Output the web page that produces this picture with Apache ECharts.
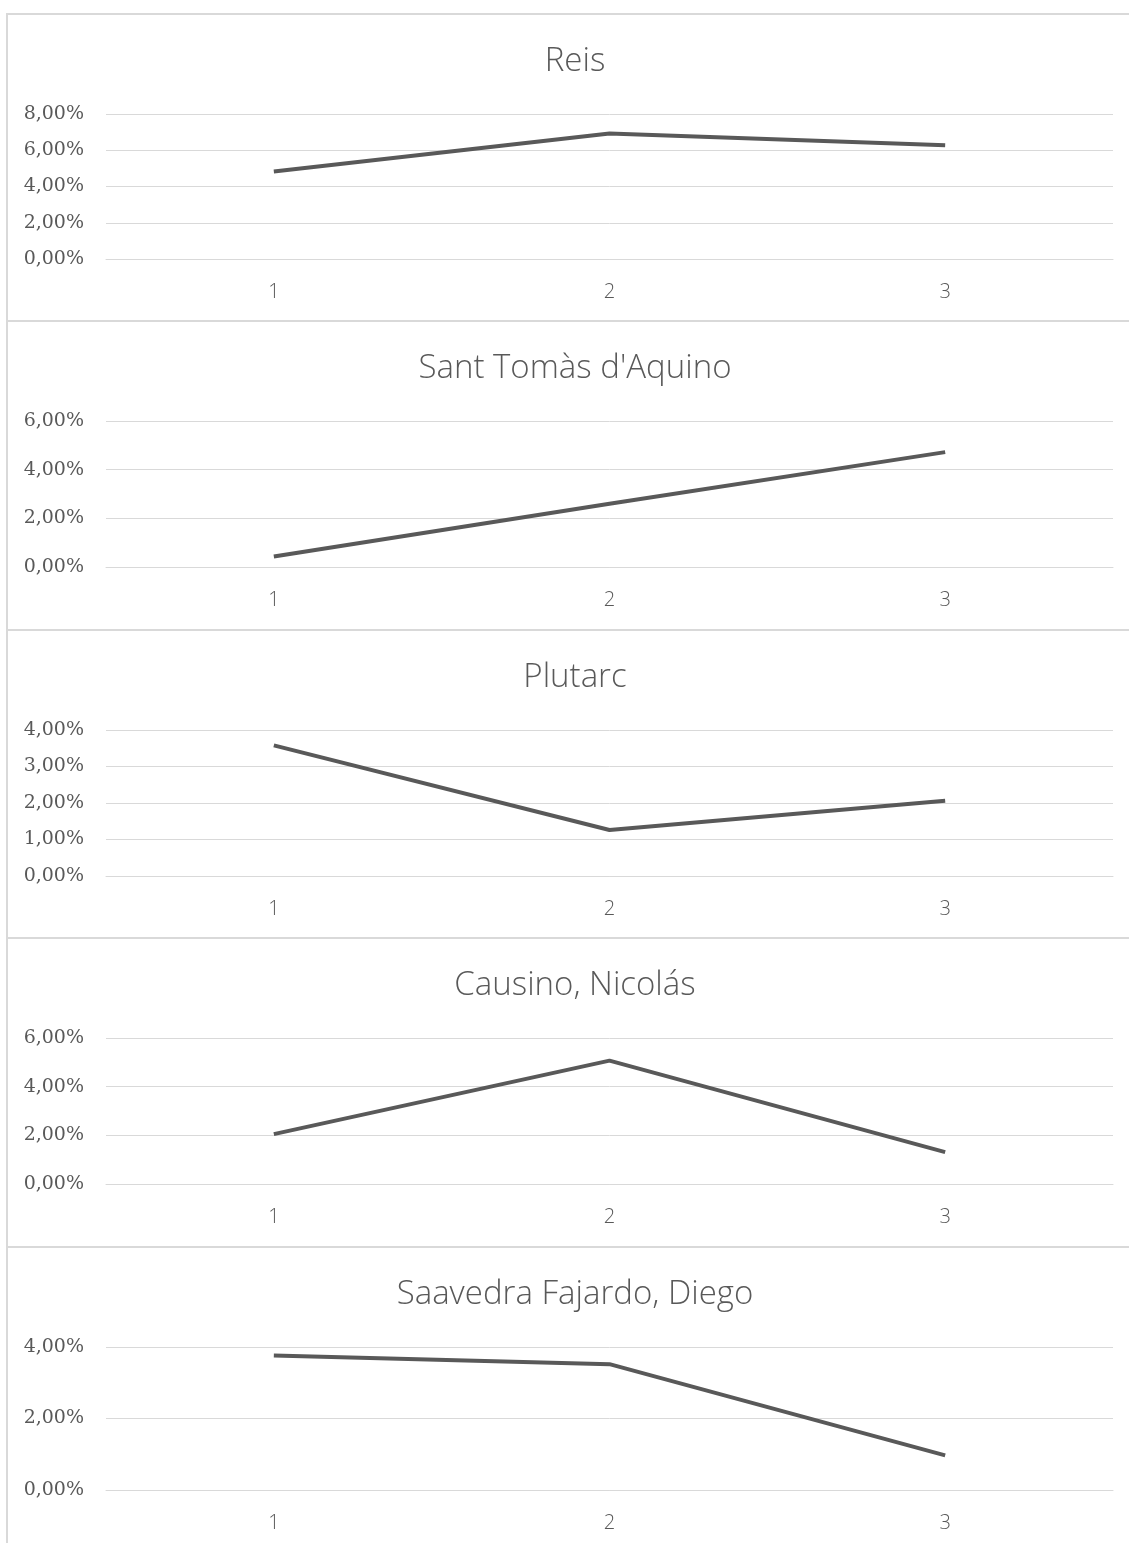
<!DOCTYPE html>
<html>
<head>
<meta charset="utf-8">
<script src="https://cdn.jsdelivr.net/npm/echarts@6/dist/echarts.min.js"></script>
<style>
html,body{margin:0;padding:0;background:#fff;}
#main{width:1129px;height:1543px;}
</style>
</head>
<body>
<div id="main"></div>
<script>
// ---- data ----
const categories = ['1', '2', '3'];
const titles = ['Reis', "Sant Tomàs d'Aquino", 'Plutarc', 'Causino, Nicolás', 'Saavedra Fajardo, Diego'];
const reis = [4.83, 6.92, 6.28];
const santTomas = [0.43, 2.60, 4.72];
const plutarc = [3.58, 1.26, 2.06];
const causino = [2.05, 5.07, 1.31];
const saavedra = [3.76, 3.52, 0.97];
const yMax = [8, 6, 4, 6, 4];
const yStep = [2, 2, 1, 2, 2];

const seriesData = [reis, santTomas, plutarc, causino, saavedra];

// ---- layout ----
const panelTops = [14, 321, 630, 938, 1247, 1560];
const gridLeft = 106, gridRight = 16;
const gridHeights = [145, 146, 146, 146, 143];

const grids = [], xAxes = [], yAxes = [], series = [], graphics = [];
const textColor = '#595959';
const lineColor = '#d9d9d9';

for (let i = 0; i < 5; i++) {
  const top = panelTops[i];
  graphics.push({
    type: 'rect', silent: true, z: 0,
    shape: { x: 7, y: top, width: 1160, height: panelTops[i + 1] - top },
    style: { fill: 'none', stroke: lineColor, lineWidth: 2 }
  });
  graphics.push({
    type: 'text', silent: true, z: 10,
    style: {
      text: titles[i], x: 575, y: top + 48,
      textAlign: 'center', textVerticalAlign: 'middle',
      font: '300 33px "Open Sans"', fill: textColor
    }
  });
  grids.push({ left: gridLeft, right: gridRight, top: top + 100, height: gridHeights[i] });
  xAxes.push({
    type: 'category', gridIndex: i, data: categories, boundaryGap: true,
    axisLine: { show: true, lineStyle: { color: lineColor, width: 1 } },
    axisTick: { show: false },
    axisLabel: { color: textColor, fontFamily: 'Open Sans', fontWeight: 300, fontSize: 20, margin: 23 }
  });
  yAxes.push({
    type: 'value', gridIndex: i, min: 0, max: yMax[i], interval: yStep[i],
    axisLine: { show: false }, axisTick: { show: false },
    splitLine: { show: true, lineStyle: { color: lineColor, width: 1 } },
    axisLabel: {
      color: textColor, fontFamily: 'DejaVu Serif', fontSize: 19, margin: 22,
      formatter: v => v.toFixed(2).replace('.', ',') + '%'
    }
  });
  series.push({
    type: 'line', xAxisIndex: i, yAxisIndex: i, data: seriesData[i],
    symbol: 'none', lineStyle: { color: '#595959', width: 4 },
    itemStyle: { color: '#595959' }, animation: false, z: 5
  });
}

const chart = echarts.init(document.getElementById('main'));
chart.setOption({
  backgroundColor: '#fff',
  animation: false,
  grid: grids, xAxis: xAxes, yAxis: yAxes, series: series,
  graphic: graphics
});
</script>
</body>
</html>
